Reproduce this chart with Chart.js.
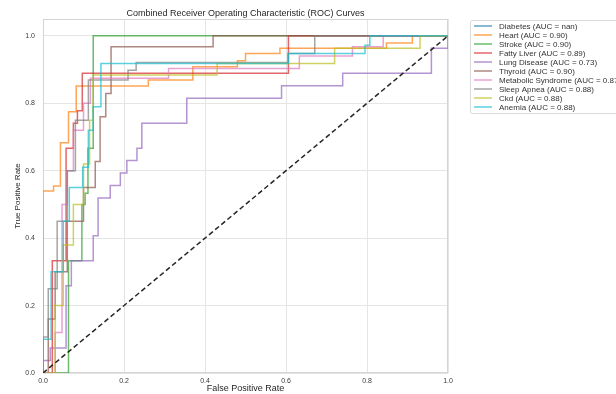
<!DOCTYPE html>
<html><head><meta charset="utf-8">
<script src="https://cdn.jsdelivr.net/npm/chart.js@4.4.1/dist/chart.umd.min.js"></script>
<style>html,body{margin:0;padding:0;background:#fff}</style>
</head><body>
<canvas id="c" width="616" height="394" style="width:616px;height:394px;display:block"></canvas>
<script>
const chartTitle = 'Combined Receiver Operating Characteristic (ROC) Curves';
const xTitle = 'False Positive Rate';
const yTitle = 'True Positive Rate';
const tickValues = [0, 0.2, 0.4, 0.6, 0.8, 1.0];
const tickLabels = ['0.0', '0.2', '0.4', '0.6', '0.8', '1.0'];

const seriesNames = ['Diabetes', 'Heart', 'Stroke', 'Fatty Liver', 'Lung Disease', 'Thyroid', 'Metabolic Syndrome', 'Sleep Apnea', 'Ckd', 'Anemia'];
const aucValues = ['nan', '0.90', '0.90', '0.89', '0.73', '0.90', '0.87', '0.88', '0.88', '0.88'];
const seriesColors = ['#1f77b4', '#ff7f0e', '#2ca02c', '#d62728', '#9467bd', '#8c564b', '#e377c2', '#7f7f7f', '#bcbd22', '#17becf'];

const diabetesFpr = [0, 1];
const diabetesTpr = [null, null];
const heartFpr = [0,0,0.026,0.026,0.043,0.043,0.063,0.063,0.082,0.082,0.26,0.26,0.37,0.37,0.48,0.48,0.5,0.5,0.585,0.585,0.848,0.848,0.912,0.912,1];
const heartTpr = [0,0.54,0.54,0.555,0.555,0.683,0.683,0.775,0.775,0.851,0.851,0.869,0.869,0.908,0.908,0.926,0.926,0.948,0.948,0.963,0.963,0.979,0.979,1,1];
const strokeFpr = [0,0.063,0.063,0.096,0.096,0.104,0.104,0.111,0.111,0.124,0.124,1];
const strokeTpr = [0,0,0.333,0.333,0.5,0.5,0.533,0.533,0.667,0.667,1,1];
const fattyFpr = [0,0.023,0.023,0.057,0.057,0.075,0.075,0.085,0.085,0.097,0.097,0.606,0.606,1];
const fattyTpr = [0,0,0.333,0.333,0.667,0.667,0.741,0.741,0.778,0.778,0.889,0.889,1,1];
const lungFpr = [0,0,0.018,0.018,0.057,0.057,0.07,0.07,0.124,0.124,0.136,0.136,0.166,0.166,0.191,0.191,0.207,0.207,0.232,0.232,0.244,0.244,0.355,0.355,0.589,0.589,0.74,0.74,0.959,0.959,1,1];
const lungTpr = [0,0.037,0.037,0.074,0.074,0.259,0.259,0.333,0.333,0.407,0.407,0.519,0.519,0.556,0.556,0.593,0.593,0.63,0.63,0.667,0.667,0.741,0.741,0.815,0.815,0.852,0.852,0.889,0.889,0.963,0.963,1];
const thyroidFpr = [0,0.013,0.013,0.03,0.03,0.06,0.06,0.1,0.1,0.129,0.129,0.141,0.141,0.155,0.155,0.168,0.168,0.42,0.42,1];
const thyroidTpr = [0,0,0.16,0.16,0.3,0.3,0.45,0.45,0.55,0.55,0.627,0.627,0.76,0.76,0.829,0.829,0.968,0.968,1,1];
const metabFpr = [0,0.03,0.03,0.047,0.047,0.06,0.06,0.075,0.075,0.1,0.1,0.117,0.117,0.31,0.31,0.633,0.633,0.764,0.764,0.84,0.84,1];
const metabTpr = [0,0,0.12,0.12,0.5,0.5,0.6,0.6,0.72,0.72,0.8,0.8,0.874,0.874,0.903,0.903,0.94,0.94,0.968,0.968,1,1];
const sleepFpr = [0,0,0.013,0.013,0.035,0.035,0.06,0.06,0.08,0.08,0.112,0.112,0.21,0.21,0.23,0.23,0.605,0.605,0.671,0.671,1];
const sleepTpr = [0,0.107,0.107,0.25,0.25,0.45,0.45,0.6,0.6,0.75,0.75,0.869,0.869,0.898,0.898,0.921,0.921,0.948,0.948,1,1];
const ckdFpr = [0,0.03,0.03,0.05,0.05,0.075,0.075,0.1,0.1,0.115,0.115,0.124,0.124,0.43,0.43,0.72,0.72,0.931,0.931,1];
const ckdTpr = [0,0,0.2,0.2,0.38,0.38,0.5,0.5,0.62,0.62,0.75,0.75,0.884,0.884,0.918,0.918,0.963,0.963,1,1];
const anemiaFpr = [0,0,0.02,0.02,0.05,0.05,0.065,0.065,0.098,0.098,0.112,0.112,0.124,0.124,0.143,0.143,0.606,0.606,0.795,0.795,0.807,0.807,1];
const anemiaTpr = [0,0.1,0.1,0.3,0.3,0.45,0.45,0.55,0.55,0.61,0.61,0.72,0.72,0.79,0.79,0.918,0.918,0.948,0.948,0.972,0.972,1,1];
const chanceFpr = [0, 1];
const chanceTpr = [0, 1];

const fprList = [diabetesFpr, heartFpr, strokeFpr, fattyFpr, lungFpr, thyroidFpr, metabFpr, sleepFpr, ckdFpr, anemiaFpr];
const tprList = [diabetesTpr, heartTpr, strokeTpr, fattyTpr, lungTpr, thyroidTpr, metabTpr, sleepTpr, ckdTpr, anemiaTpr];

function hexA(hex, a) {
  const n = parseInt(hex.slice(1), 16);
  return `rgba(${(n >> 16) & 255},${(n >> 8) & 255},${n & 255},${a})`;
}
const FONT = '"Liberation Sans", Arial, sans-serif';
const N = seriesNames.length;

const datasets = seriesNames.map((name, i) => ({
  label: `${name} (AUC = ${aucValues[i]})`,
  data: fprList[i].map((x, k) => ({ x: x, y: tprList[i][k] })),
  borderColor: hexA(seriesColors[i], 0.7),
  borderWidth: 1.5,
  showLine: true,
  pointRadius: 0,
  spanGaps: false,
  order: N - i + 1,
  isSeries: true
}));
datasets.push({
  label: 'chance',
  data: chanceFpr.map((x, k) => ({ x: x, y: chanceTpr[k] })),
  borderColor: '#262626',
  borderWidth: 1.5,
  borderDash: [5, 3],
  showLine: true,
  pointRadius: 0,
  order: 0,
  isSeries: false
});

const framePlugin = {
  id: 'frame',
  beforeDatasetsDraw(chart) {
    const a = chart.chartArea, ctx = chart.ctx;
    ctx.save();
    ctx.strokeStyle = '#d4d4d4';
    ctx.lineWidth = 1;
    ctx.strokeRect(Math.round(a.left) + 0.5, Math.round(a.top) + 0.5, Math.round(a.right - a.left) - 1, Math.round(a.bottom - a.top) - 1);
    ctx.restore();
  }
};

const legendPlugin = {
  id: 'sideLegend',
  afterDraw(chart) {
    const ctx = chart.ctx;
    const items = chart.data.datasets.filter(d => d.isSeries);
    ctx.save();
    const x0 = 470.5, y0 = 20.5, w = 170, h = 93, r = 2;
    ctx.beginPath();
    ctx.moveTo(x0 + r, y0); ctx.lineTo(x0 + w, y0); ctx.lineTo(x0 + w, y0 + h);
    ctx.lineTo(x0 + r, y0 + h); ctx.arcTo(x0, y0 + h, x0, y0 + h - r, r);
    ctx.lineTo(x0, y0 + r); ctx.arcTo(x0, y0, x0 + r, y0, r); ctx.closePath();
    ctx.fillStyle = 'rgba(255,255,255,0.9)';
    ctx.fill();
    ctx.strokeStyle = '#dadada';
    ctx.lineWidth = 1;
    ctx.stroke();
    ctx.font = '8px ' + FONT;
    ctx.textBaseline = 'middle';
    items.forEach((d, i) => {
      const y = 26 + i * 9.0;
      ctx.strokeStyle = d.borderColor;
      ctx.lineWidth = 1.5;
      ctx.beginPath(); ctx.moveTo(474, y); ctx.lineTo(492, y); ctx.stroke();
      ctx.fillStyle = '#333333';
      ctx.fillText(d.label, 499, y + 0.5);
    });
    ctx.restore();
  }
};

new Chart(document.getElementById('c'), {
  type: 'scatter',
  data: { datasets },
  options: {
    responsive: false,
    animation: false,
    devicePixelRatio: 1,
    layout: { padding: { left: 0, right: 168, top: 0, bottom: 0 } },
    plugins: {
      legend: { display: false },
      tooltip: { enabled: false },
      title: {
        display: true, text: chartTitle, fullSize: false,
        color: '#262626', font: { family: FONT, size: 9, weight: 'normal' },
        padding: { top: 8, bottom: 0.2 }
      }
    },
    scales: {
      x: {
        type: 'linear', min: 0, max: 1,
        afterBuildTicks: s => { s.ticks = tickValues.map(v => ({ value: v })); },
        afterFit: s => { s.height = 21; },
        ticks: { callback: (v) => tickLabels[tickValues.findIndex(t => Math.abs(t - v) < 1e-9)], color: '#3a3a3a', font: { family: FONT, size: 7 }, padding: 4, maxRotation: 0 },
        grid: { color: '#e5e5e5', lineWidth: 1, drawTicks: false },
        border: { display: false },
        title: { display: true, text: xTitle, color: '#262626', font: { family: FONT, size: 9 }, padding: { top: 0, bottom: 0 } }
      },
      y: {
        type: 'linear', min: 0, max: 1.05,
        ticks: { includeBounds: false, callback: (v) => tickLabels[tickValues.findIndex(t => Math.abs(t - v) < 1e-9)], color: '#3a3a3a', font: { family: FONT, size: 7 }, padding: 8 },
        afterBuildTicks: s => { s.ticks = tickValues.map(v => ({ value: v })); },
        afterFit: s => { s.width = 43; },
        grid: { color: '#e5e5e5', lineWidth: 1, drawTicks: false },
        border: { display: false },
        title: { display: true, text: yTitle, color: '#262626', font: { family: FONT, size: 8 }, padding: { top: 13, bottom: 0 } }
      }
    }
  },
  plugins: [framePlugin, legendPlugin]
});
</script>
</body></html>
